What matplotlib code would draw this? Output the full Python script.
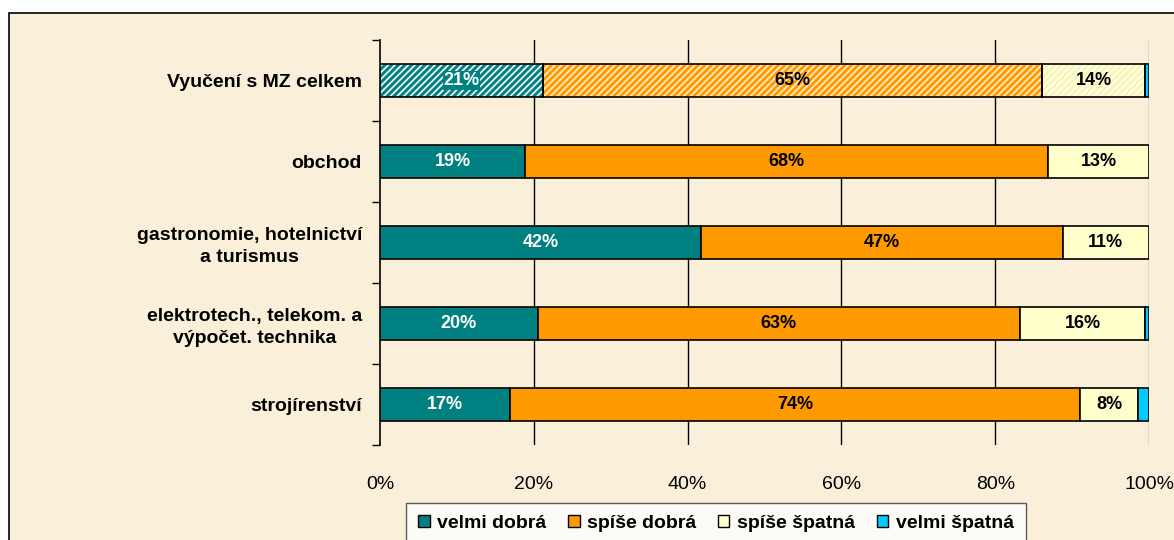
import numpy as np
import matplotlib.pyplot as plt
from matplotlib.patches import Rectangle

plt.rcParams['font.family'] = ['Liberation Sans', 'DejaVu Sans']
plt.rcParams['hatch.linewidth'] = 1.3

categories = ['Vyučení s MZ celkem', 'obchod', 'gastronomie, hotelnictví\na turismus',
              'elektrotech., telekom. a\nvýpočet. technika', 'strojírenství']
series = ['velmi dobrá', 'spíše dobrá', 'spíše špatná', 'velmi špatná']
velmi_dobra = [21.2, 18.9, 41.7, 20.5, 16.9]
spise_dobra = [64.9, 68.0, 47.1, 62.7, 74.1]
spise_spatna = [13.4, 13.1, 11.2, 16.3, 7.6]
velmi_spatna = [0.5, 0.0, 0.0, 0.5, 1.4]
labels = [['21%', '65%', '14%'], ['19%', '68%', '13%'], ['42%', '47%', '11%'],
          ['20%', '63%', '16%'], ['17%', '74%', '8%']]
colors = ['#008080', '#FF9900', '#FFFFCC', '#00CCFF']
hatch_colors = ['#EAF4F4', '#FFEBC0', '#F2F0CC']

fig = plt.figure(figsize=(11.74, 5.4), dpi=100)
fig.patch.set_facecolor('white')
fig.patches.append(Rectangle((9 / 1174, -0.1), 1.2, 1 - 13 / 540 + 0.1,
                             transform=fig.transFigure, facecolor='#FAF0DA',
                             edgecolor='black', linewidth=1.2, zorder=-10))

ax = fig.add_axes([380 / 1174, 1 - 445 / 540, 769 / 1174, 405 / 540])
ax.set_facecolor('none')

y = np.arange(len(categories))
data = [velmi_dobra, spise_dobra, spise_spatna, velmi_spatna]
left = np.zeros(len(categories))
for s, (vals, col) in enumerate(zip(data, colors)):
    for i, v in enumerate(vals):
        if v <= 0:
            continue
        if i == 0 and s < 3:
            # hatched total bar: light hatch lines, then black outline on top
            ax.barh(y[i], v, left=left[i], height=0.41, facecolor=col,
                    edgecolor=hatch_colors[s], linewidth=0, hatch='/////', zorder=3)
            ax.barh(y[i], v, left=left[i], height=0.41, facecolor='none',
                    edgecolor='black', linewidth=1.2, zorder=4)
        else:
            ax.barh(y[i], v, left=left[i], height=0.41, color=col, edgecolor='black',
                    linewidth=1.2, zorder=3)
        if s < 3:
            txtcol = 'white' if s == 0 else 'black'
            bbox = dict(boxstyle='square,pad=0.05', fc=col, ec='none') if (i == 0 and s == 0) else None
            ax.text(left[i] + v / 2, y[i], labels[i][s], ha='center', va='center',
                    fontsize=13, fontweight='bold', color=txtcol, zorder=5, bbox=bbox)
    left += np.array(vals)

ax.set_xlim(0, 100)
ax.set_ylim(len(categories) - 0.5, -0.5)
ax.set_xticks(np.arange(0, 101, 20))
ax.set_xticklabels([f'{t}%' for t in range(0, 101, 20)], fontsize=14)
ax.set_yticks(y)
ax.set_yticklabels(categories, fontsize=14, fontweight='bold', linespacing=1.35)
ax.set_yticks(np.arange(-0.5, len(categories), 1), minor=True)
ax.tick_params(axis='y', which='major', length=0, pad=13)
ax.tick_params(axis='y', which='minor', length=6, width=1, direction='out')
ax.tick_params(axis='x', length=0, pad=22)
for lbl in ax.get_yticklabels():
    lbl.set_horizontalalignment('right')
    lbl.set_multialignment('center')

for x in range(20, 101, 20):
    ax.axvline(x, color='black' if x < 100 else '#888888', linewidth=1, zorder=1)
for side in ['top', 'right', 'bottom']:
    ax.spines[side].set_visible(False)
ax.spines['left'].set_linewidth(1.2)

handles = [Rectangle((0, 0), 1, 1, facecolor=c, edgecolor='black', linewidth=1) for c in colors]
leg = fig.legend(handles, series, loc='upper center', bbox_to_anchor=(716 / 1174, 1 - 503 / 540),
                 ncol=4, frameon=True, fancybox=False, edgecolor='#333333', borderaxespad=0,
                 handlelength=0.6, handleheight=0.6, handletextpad=0.4, columnspacing=1.1,
                 borderpad=0.6, prop={'weight': 'bold', 'size': 14})
leg.get_frame().set_linewidth(1)

fig.savefig('out.png', dpi=100)
